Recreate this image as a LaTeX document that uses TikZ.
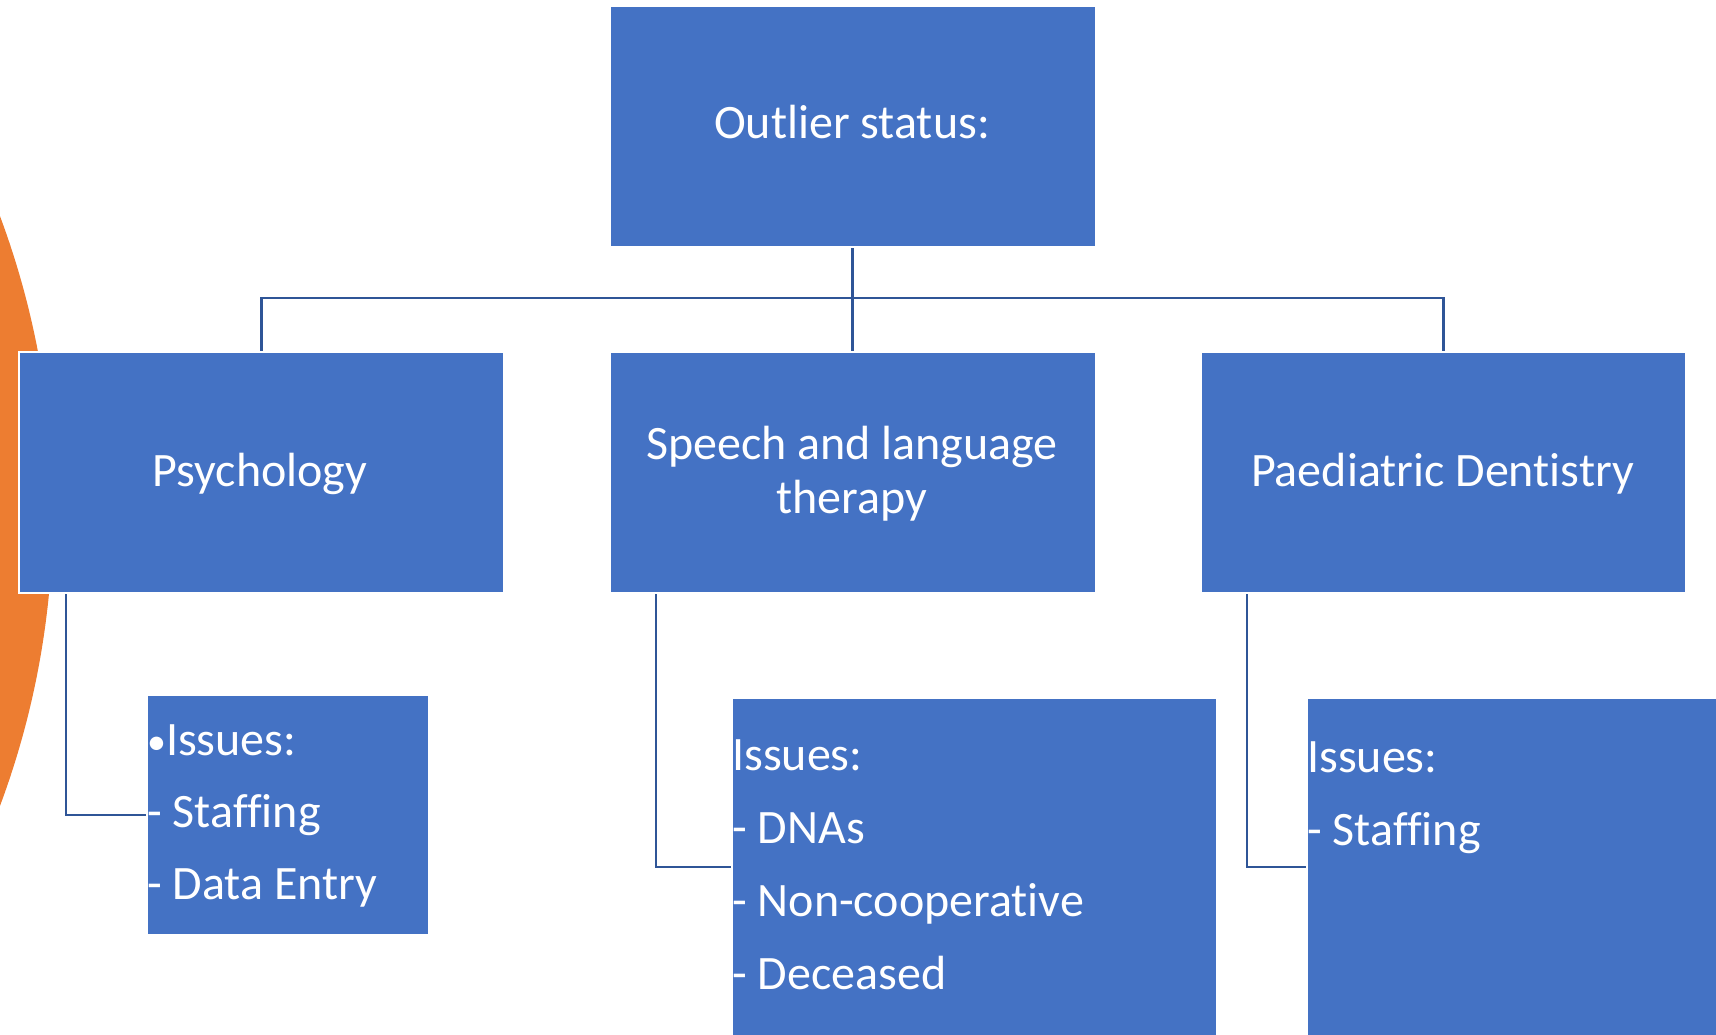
\documentclass[tikz,border=0pt]{standalone}
\usepackage{fontspec}
\setmainfont[Ligatures=NoCommon]{Carlito}
\usetikzlibrary{backgrounds}
\definecolor{boxblue}{HTML}{4472C4}
\definecolor{linkblue}{HTML}{2F5597}
\definecolor{orng}{HTML}{ED7D31}
\begin{document}
\begin{tikzpicture}[x=1pt,y=-1pt,
  blk/.style={rectangle, fill=boxblue, draw=white, line width=1.5pt, inner sep=0pt, anchor=north west},
  lbl/.style={text=white, font=\fontsize{48}{56}\selectfont, inner sep=0pt},
  conn/.style={draw=linkblue, line width=2.6pt}]
\useasboundingbox (0,0) rectangle (1716,1034);
\clip (0,0) rectangle (1716,1034);
% boxes
\node[blk, minimum width=486pt, minimum height=241pt] (top) at (609,5) {};
\node[blk, minimum width=485pt, minimum height=241pt] (psych) at (18,351) {};
\node[blk, minimum width=486pt, minimum height=241pt] (speech) at (609,351) {};
\node[blk, minimum width=485pt, minimum height=241pt] (paed) at (1200,351) {};
\node[blk, minimum width=282pt, minimum height=240pt] (psub) at (146,694) {};
\node[blk, minimum width=485pt, minimum height=338pt] (ssub) at (731,697) {};
\node[blk, minimum width=485pt, minimum height=338pt] (dsub) at (1306,697) {};
% background: orange disc and connectors
\begin{pgfonlayer}{background}
  \fill[orng] (-790,511) circle[radius=843pt];
  \coordinate (hub) at (852,298);
  \draw[conn] (top.south) -- (speech.north);
  \draw[conn] (psych.north) |- (hub) -| (paed.north);
  \draw[conn, line width=2.2pt] ([xshift=48pt]psych.south west) |- (psub.west);
  \draw[conn, line width=2.2pt] ([xshift=47pt]speech.south west) |- (ssub.west);
  \draw[conn, line width=2.2pt] ([xshift=47pt]paed.south west) |- (dsub.west);
\end{pgfonlayer}
% titles
\node[lbl, anchor=base] (ttop) at (852,138) {Outlier status:};
\node[lbl, anchor=base] (tpsych) at (260,486) {Psychology};
\node[lbl, anchor=base] (tspeechA) at (852,459) {Speech and language};
\node[lbl, anchor=base] (tspeechB) at (852,513) {therapy};
\node[lbl, anchor=base] (tpaed) at (1442.5,486) {Paediatric Dentistry};
% psychology issues
\node[lbl, anchor=base west] (pa) at (147,755) {{\fontsize{38}{56}\selectfont\raisebox{1pt}{•}}Issues:};
\node[lbl, anchor=base west] (pb) at (147,827) {- Staffing};
\node[lbl, anchor=base west] (pc) at (147,899) {- Data Entry};
% speech issues
\node[lbl, anchor=base west] (sa) at (732,770) {Issues:};
\node[lbl, anchor=base west] (sb) at (732,843) {- DNAs};
\node[lbl, anchor=base west] (sc) at (732,916) {- Non-cooperative};
\node[lbl, anchor=base west] (sd) at (732,989) {- Deceased};
% dentistry issues
\node[lbl, anchor=base west] (da) at (1307,772) {Issues:};
\node[lbl, anchor=base west] (db) at (1307,845) {- Staffing};
\end{tikzpicture}
\end{document}
